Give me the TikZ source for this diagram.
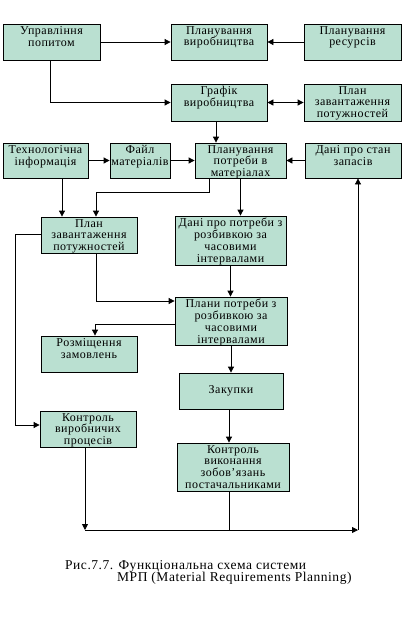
\documentclass[tikz,border=0pt]{standalone}
\usepackage{fontspec}
\setmainfont{Liberation Serif}[LetterSpace=4.0]
\usepackage{tikz}
\usetikzlibrary{positioning,arrows.meta}
\definecolor{boxfill}{RGB}{186,224,209}

\begin{document}
\begin{tikzpicture}[x=1pt,y={(0,-1pt)},
    font=\fontsize{12}{11.8}\selectfont,
    box/.style={draw, fill=boxfill, line width=0.8pt, inner sep=0pt,
        minimum width=96pt, minimum height=36pt},
    txt/.style={anchor=north, align=center, inner sep=2.5pt},
    caption/.style={anchor=base west, inner sep=0pt, font=\fontsize{13.5}{13.5}\selectfont},
    arr/.style={-{Triangle[length=6pt,width=6pt]}, line width=0.8pt},
    link/.style={line width=0.8pt}]
    \useasboundingbox (0,0) rectangle (417,625);
    %%%%% TOP ROWS
    \node[box, minimum width=97pt, label={[txt]north:{Управління\\попитом}}] (UPR) at (51.5,42) {};
    \node[box, label={[txt]north:{Планування\\виробництва}}] (PLVYR) at (219,42) {};
    \node[box, minimum width=97pt, label={[txt]north:{Планування\\ресурсів}}] (PLRES) at (352.5,42) {};
    \node[box, minimum height=37pt, label={[txt]north:{Графік\\виробництва}}] (GRAF) at (219,102.5) {};
    \node[box, minimum width=97pt, minimum height=37pt, label={[txt]north:{План\\завантаження\\потужностей}}] (PLANZA) at (352.5,102.5) {};
    %%%%% MATERIALS ROW
    \node[box, minimum width=85pt, minimum height=35pt, label={[txt]north:{Технологічна\\інформація}}] (TECH) at (45.5,160.5) {};
    \node[box, minimum width=60pt, minimum height=35pt, label={[txt]north:{Файл\\матеріалів}}] (FAIL) at (140,160.5) {};
    \node[box, minimum width=91pt, minimum height=35pt, label={[txt]north:{Планування\\потреби в\\матеріалах}}] (PLPM) at (240.5,160.5) {};
    \node[box, minimum height=35pt, label={[txt]north:{Дані про стан\\запасів}}] (ZAPAS) at (353,160.5) {};
    %%%%% LOWER PART
    \node[box, label={[txt]north:{План\\завантаження\\потужностей}}] (PLANZB) at (89,235) {};
    \node[box, minimum width=111pt, minimum height=49pt, label={[txt]north:{Дані про потреби з\\розбивкою за\\часовими\\інтервалами}}] (DANI) at (230.5,240.5) {};
    \node[box, minimum width=112pt, minimum height=48pt, label={[txt]north:{Плани потреби з\\розбивкою за\\часовими\\інтервалами}}] (PLANY) at (231,321) {};
    \node[box, label={[txt]north:{Розміщення\\замовлень}}] (ROZM) at (89,354) {};
    \node[box, minimum width=104pt] (ZAK) at (231,391) {Закупки};
    \node[box, label={[txt]north:{Контроль\\виробничих\\процесів}}] (KVP) at (88,429) {};
    \node[box, minimum width=112pt, minimum height=48pt, label={[txt]north:{Контроль\\виконання\\зобов’язань\\постачальниками}}] (KVZ) at (233,467) {};
    \coordinate (JL) at (85,530);
    \coordinate (JR) at (358,530);
    %%%%% CAPTION
    \node[caption] (CAPA) at (65,569) {Рис.7.7. Функціональна схема системи};
    \node[caption] (CAPB) at (117,581) {МРП (Material Requirements Planning)};
    %%%%% LINKS
    \draw[arr] (UPR) -- (PLVYR);
    \draw[arr] (PLRES) -- (PLVYR);
    \draw[arr] ([xshift=-1.5pt]UPR.south) |- (GRAF.west);
    \draw[arr, {Triangle[length=6pt,width=6pt]}-{Triangle[length=6pt,width=6pt]}] (GRAF) -- (PLANZA);
    \draw[arr] ([xshift=-3pt]GRAF.south) -- ([xshift=-3pt]GRAF.south |- PLPM.north);
    \draw[arr] (TECH) -- (FAIL);
    \draw[arr] (FAIL) -- (PLPM);
    \draw[arr] (ZAPAS) -- (PLPM);
    \draw[arr] ([xshift=16.5pt]TECH.south) -- ([xshift=16.5pt]TECH.south |- PLANZB.north);
    \draw[arr] ([xshift=-31.5pt]PLPM.south) -- ++(0,14) -| ([xshift=7pt]PLANZB.north);
    \draw[arr] (PLPM.south) -- (PLPM.south |- DANI.north);
    \draw[arr] ([yshift=1pt]PLANZB.west) -- ++(-25,0) |- ([yshift=4pt]KVP.west);
    \draw[arr] ([xshift=7pt]PLANZB.south) |- ([yshift=20pt]PLANY.west);
    \draw[arr] (DANI.south) -- (DANI.south |- PLANY.north);
    \draw[arr] ([yshift=-3pt]PLANY.west) -| ([xshift=6pt]ROZM.north);
    \draw[arr] (PLANY.south) -- (ZAK.north);
    \draw[arr] ([xshift=-2pt]ZAK.south) -- ([xshift=-2pt]ZAK.south |- KVZ.north);
    \draw[arr] ([xshift=-3pt]KVP.south) -- (JL);
    \draw[link] ([xshift=-4pt]KVZ.south) -- ([xshift=-4pt]KVZ.south |- JL);
    \draw[arr] (JL) -- (JR);
    \draw[arr] (JR) -- (JR |- ZAPAS.south);
\end{tikzpicture}
\end{document}
